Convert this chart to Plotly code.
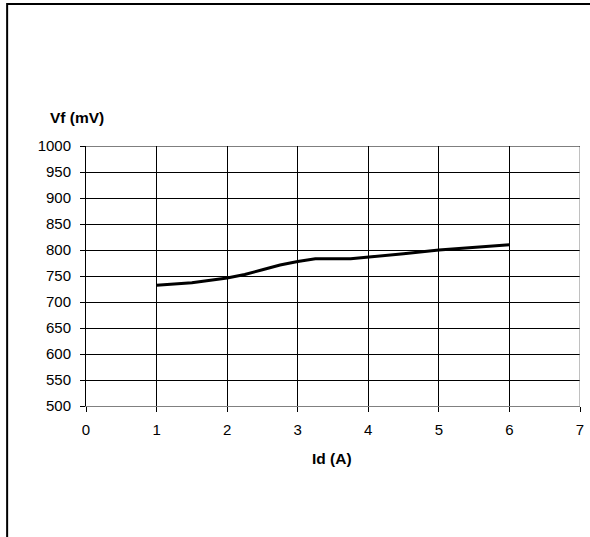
import plotly.graph_objects as go

current_a = [1, 1.5, 2, 2.25, 2.5, 2.75, 3, 3.25, 3.75, 4, 4.5, 5, 5.5, 6]
vf_mv = [732, 737, 746, 753, 762, 771, 778, 783, 783, 786, 793, 800, 805, 810]
x_ticks = [0, 1, 2, 3, 4, 5, 6, 7]
y_ticks = [500, 550, 600, 650, 700, 750, 800, 850, 900, 950, 1000]

W, H = 590, 537
ml, mr, mt, mb = 86, 6, 146, 131
pw, ph = W - ml - mr, H - mt - mb

def px_x(p):
    return (p - ml) / pw

def px_y(p):
    return (H - mb - p) / ph

font = dict(family="Liberation Sans, Arial, sans-serif", size=15, color="black")
tfont = dict(family="Liberation Sans, Arial, sans-serif", size=15.5, color="black")

fig = go.Figure()
fig.add_trace(go.Scatter(x=current_a, y=vf_mv, mode="lines",
                         line=dict(color="black", width=3), hoverinfo="skip"))

fig.update_layout(
    width=W, height=H,
    margin=dict(l=ml, r=mr, t=mt, b=mb),
    paper_bgcolor="white", plot_bgcolor="white",
    showlegend=False,
    font=font,
    xaxis=dict(range=[0, 7], tickvals=x_ticks, ticktext=[str(v) for v in x_ticks],
               showgrid=True, gridcolor="black", gridwidth=1,
               showline=True, linecolor="#808080", linewidth=1,
               ticks="outside", ticklen=5, tickcolor="black", tickfont=font,
               ticklabelstandoff=5,
               zeroline=False, fixedrange=True),
    yaxis=dict(range=[500, 1000], tickvals=y_ticks, ticktext=[str(v) for v in y_ticks],
               showgrid=True, gridcolor="black", gridwidth=1,
               showline=True, linecolor="black", linewidth=1,
               ticks="outside", ticklen=5, tickcolor="black", tickfont=font,
               ticklabelstandoff=6,
               zeroline=False, fixedrange=True),
    shapes=[
        dict(type="line", xref="x", yref="y", x0=7, x1=7, y0=500, y1=1000,
             line=dict(color="#808080", width=1)),
        dict(type="line", xref="x", yref="y", x0=0, x1=7, y0=1000, y1=1000,
             line=dict(color="black", width=1)),
        dict(type="rect", xref="paper", yref="paper",
             x0=px_x(6.5), x1=px_x(620), y0=px_y(570), y1=px_y(4),
             line=dict(color="black", width=2), fillcolor="rgba(0,0,0,0)"),
    ],
    annotations=[
        dict(text="<b>Vf (mV)</b>", xref="paper", yref="paper",
             x=px_x(47.5), y=px_y(117.5), xanchor="left", yanchor="middle",
             showarrow=False, font=tfont),
        dict(text="<b>Id (A)</b>", xref="paper", yref="paper",
             x=px_x(333.5), y=px_y(458), xanchor="center", yanchor="middle",
             showarrow=False, font=tfont),
    ],
)

fig.write_html("out.html", config={"displayModeBar": False},
               post_script="document.body.style.margin='0';document.body.style.padding='0';")
